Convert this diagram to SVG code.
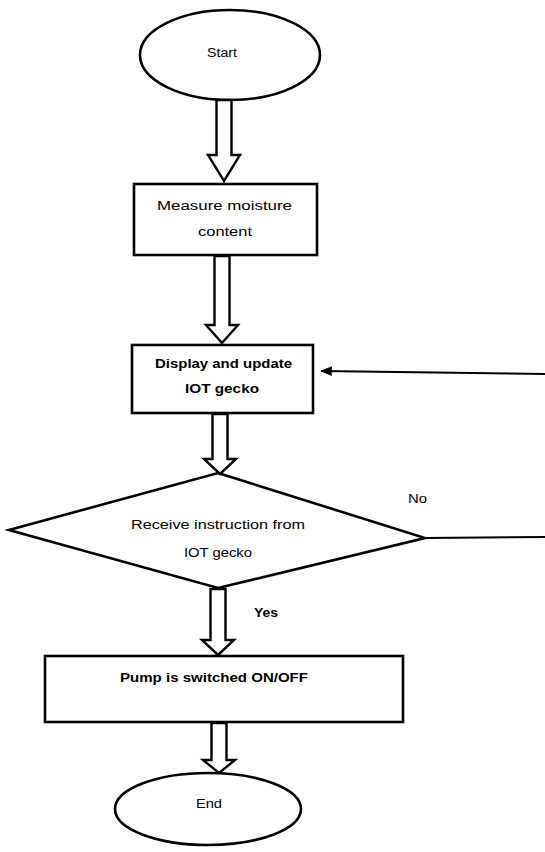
<svg xmlns="http://www.w3.org/2000/svg" width="545" height="852" viewBox="0 0 545 852">
<style>
.shape{fill:#fff;stroke:#000;stroke-width:2.6}
.arrow{fill:#fff;stroke:#000;stroke-width:2.4;stroke-linejoin:miter}
.line{fill:none;stroke:#000;stroke-width:2}
text{font-family:"Liberation Sans",Arial,sans-serif;font-size:12.5px;fill:#000}
.b{font-weight:bold}
</style>
<defs>
<marker id="ah" viewBox="0 0 10 10" refX="9" refY="5" markerWidth="6" markerHeight="6" orient="auto">
<path d="M0,1 L10,5 L0,9 z" fill="#000"/>
</marker>
</defs>
<rect width="545" height="852" fill="#fff"/>
<g id="start">
<ellipse class="shape" cx="230" cy="55" rx="90" ry="45"/>
<text x="207" y="57" textLength="30" lengthAdjust="spacingAndGlyphs">Start</text>
</g>
<g id="measure">
<rect class="shape" x="134" y="184" width="183" height="71"/>
<text x="157" y="210" textLength="135" lengthAdjust="spacingAndGlyphs">Measure moisture</text>
<text x="198" y="236" textLength="54" lengthAdjust="spacingAndGlyphs">content</text>
</g>
<g id="display">
<rect class="shape" x="132" y="345" width="181" height="68"/>
<text class="b" x="155" y="368" textLength="137" lengthAdjust="spacingAndGlyphs">Display and update</text>
<text class="b" x="185" y="393" textLength="74" lengthAdjust="spacingAndGlyphs">IOT gecko</text>
</g>
<g id="decision">
<polygon class="shape" points="218,473 425,538 218,588 9,530"/>
<text x="131" y="529" textLength="174" lengthAdjust="spacingAndGlyphs">Receive instruction from</text>
<text x="184" y="557" textLength="68" lengthAdjust="spacingAndGlyphs">IOT gecko</text>
</g>
<g id="pump">
<rect class="shape" x="45" y="656" width="358" height="66"/>
<text class="b" x="120" y="682" textLength="188" lengthAdjust="spacingAndGlyphs">Pump is switched ON/OFF</text>
</g>
<g id="end">
<ellipse class="shape" cx="208" cy="809" rx="93" ry="36"/>
<text x="196" y="808" textLength="26" lengthAdjust="spacingAndGlyphs">End</text>
</g>
<g id="connectors">
<polygon class="arrow" points="216.5,100 231.5,100 231.5,155 240,155 224,181 208,155 216.5,155"/>
<polygon class="arrow" points="214.5,256 229.5,256 229.5,325 238,325 222,343 206,325 214.5,325"/>
<polygon class="arrow" points="212.5,414 227.5,414 227.5,459 236,459 220,474 204,459 212.5,459"/>
<polygon class="arrow" points="210.5,589 225.5,589 225.5,640 234,640 218,655 202,640 210.5,640"/>
<polygon class="arrow" points="211.5,723 226.5,723 226.5,760 235,760 219,773 203,760 211.5,760"/>
<line class="line" x1="545" y1="374" x2="321" y2="371" marker-end="url(#ah)"/>
<line class="line" x1="425" y1="538" x2="545" y2="537"/>
<text x="408" y="503" textLength="19" lengthAdjust="spacingAndGlyphs">No</text>
<text class="b" x="254" y="617" textLength="24" lengthAdjust="spacingAndGlyphs">Yes</text>
</g>
</svg>
